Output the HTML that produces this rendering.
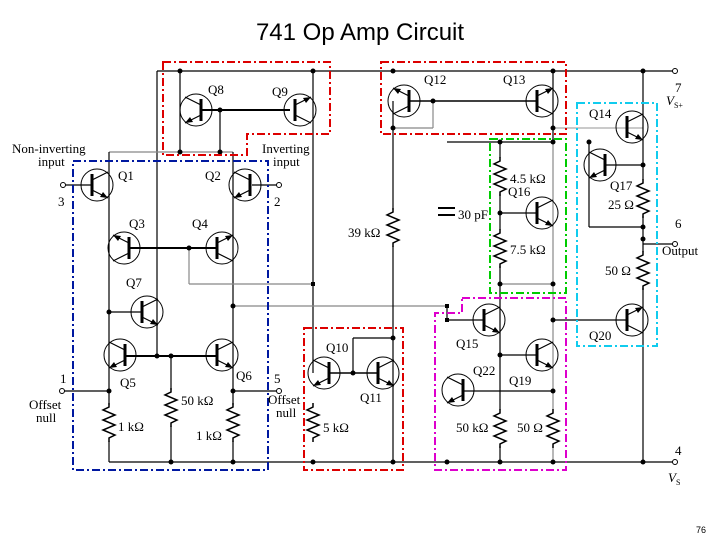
<!DOCTYPE html>
<html><head><meta charset="utf-8"><style>
html,body{margin:0;padding:0;background:#fff}
svg{display:block}
text{font-family:"Liberation Serif",serif;font-size:13px;fill:#000}
</style></head><body>
<svg width="720" height="540" viewBox="0 0 720 540" xmlns="http://www.w3.org/2000/svg">
<defs>
<g id="T">
<circle cx="0" cy="0" r="16" fill="none" stroke="#000" stroke-width="1"/>
<line x1="-5" y1="-11" x2="-5" y2="11" stroke="#000" stroke-width="3"/>
<polyline points="-5,-5 11,-13" fill="none" stroke="#000" stroke-width="1.2"/>
<polyline points="-5,5 11,13" fill="none" stroke="#000" stroke-width="1.2"/>
<polygon points="11,13 3,12 6,7" fill="#000"/>
</g>
<g id="R"><polyline points="0,0 0,4 -6,7 6,12 -6,17 6,22 -6,27 6,32 0,35 0,39" fill="none" stroke="#000" stroke-width="1.5"/></g>
</defs>
<text x="360" y="40" text-anchor="middle" style="font-family:'Liberation Sans',sans-serif;font-size:24px">741 Op Amp Circuit</text>
<text x="706" y="533" text-anchor="end" style="font-family:'Liberation Sans',sans-serif;font-size:9px">76</text>

<g stroke="#000" stroke-width="1.2" fill="none">
<line x1="157" y1="71" x2="673" y2="71"/>
<line x1="109" y1="462" x2="673" y2="462"/>
<line x1="157" y1="71" x2="157" y2="356"/>
<line x1="180" y1="71" x2="180" y2="152"/>
<line x1="313" y1="71" x2="313" y2="373"/>
<line x1="202" y1="110" x2="290" y2="110" stroke-width="2"/>
<line x1="220" y1="110" x2="220" y2="152"/>
<line x1="109" y1="152" x2="233" y2="152" stroke="#888"/>
<line x1="65" y1="185" x2="91" y2="185"/>
<line x1="109" y1="152" x2="109" y2="440"/>
<line x1="233" y1="152" x2="233" y2="462"/>
<line x1="252" y1="185" x2="277" y2="185"/>
<line x1="130" y1="248" x2="216" y2="248" stroke-width="2"/>
<line x1="189" y1="248" x2="189" y2="284" stroke="#888"/>
<line x1="189" y1="284" x2="313" y2="284" stroke="#888"/>
<line x1="233" y1="306" x2="447" y2="306" stroke="#888"/>
<line x1="447" y1="306" x2="447" y2="320"/>
<line x1="109" y1="312" x2="141" y2="312"/>
<line x1="126" y1="356" x2="216" y2="356" stroke-width="2"/>
<line x1="64" y1="391" x2="109" y2="391"/>
<line x1="233" y1="391" x2="277" y2="391"/>
<line x1="171" y1="356" x2="171" y2="462"/>
<line x1="109" y1="440" x2="109" y2="462"/>
<line x1="330" y1="373" x2="377" y2="373" stroke-width="1.5"/>
<line x1="353" y1="373" x2="353" y2="338"/>
<line x1="353" y1="338" x2="393" y2="338"/>
<line x1="393" y1="101" x2="393" y2="462"/>
<line x1="410" y1="101" x2="538" y2="101" stroke-width="1.5"/>
<line x1="433" y1="101" x2="433" y2="128" stroke="#888"/>
<line x1="393" y1="128" x2="433" y2="128" stroke="#888"/>
<line x1="553" y1="71" x2="553" y2="142"/>
<line x1="553" y1="128" x2="643" y2="128" stroke="#aaa"/>
<line x1="553" y1="142" x2="553" y2="462" stroke="#888"/>
<line x1="447" y1="142" x2="553" y2="142"/>
<line x1="438" y1="208" x2="455" y2="208" stroke-width="2"/>
<line x1="438" y1="215" x2="455" y2="215" stroke-width="2"/>
<line x1="500" y1="142" x2="500" y2="462"/>
<line x1="500" y1="213" x2="538" y2="213"/>
<line x1="500" y1="284" x2="553" y2="284" stroke="#888"/>
<line x1="643" y1="71" x2="643" y2="462"/>
<line x1="604" y1="165" x2="643" y2="165"/>
<line x1="589" y1="142" x2="589" y2="227"/>
<line x1="589" y1="227" x2="643" y2="227"/>
<line x1="643" y1="244" x2="673" y2="244"/>
<line x1="447" y1="320" x2="483" y2="320"/>
<line x1="500" y1="355" x2="538" y2="355"/>
<line x1="463" y1="391" x2="553" y2="391"/>
<line x1="553" y1="320" x2="626" y2="320"/>
</g>
<g fill="#fff">
<rect x="104" y="405" width="10" height="36"/><rect x="166" y="390" width="10" height="36"/>
<rect x="228" y="405" width="10" height="36"/><rect x="308" y="405" width="10" height="36"/>
<rect x="388" y="210" width="10" height="36"/><rect x="495" y="158" width="10" height="36"/>
<rect x="495" y="230" width="10" height="36"/><rect x="638" y="180" width="10" height="36"/>
<rect x="638" y="252" width="10" height="36"/><rect x="495" y="410" width="10" height="36"/>
<rect x="548" y="410" width="10" height="36"/>
</g>
<use href="#R" x="109" y="403"/><use href="#R" x="171" y="388"/><use href="#R" x="233" y="403"/>
<use href="#R" x="313" y="403"/><use href="#R" x="393" y="208"/><use href="#R" x="500" y="157"/>
<use href="#R" x="500" y="229"/><use href="#R" x="643" y="179"/><use href="#R" x="643" y="251"/>
<use href="#R" x="500" y="409"/><use href="#R" x="553" y="409"/>

<g fill="#fff">
<use href="#T" transform="translate(196,110) scale(-1,1)"/>
<use href="#T" transform="translate(300,110) scale(1,-1)"/>
<use href="#T" transform="translate(97,185)"/>
<use href="#T" transform="translate(245,185) scale(-1,1)"/>
<use href="#T" transform="translate(124,248) scale(-1,-1)"/>
<use href="#T" transform="translate(222,248) scale(1,-1)"/>
<use href="#T" transform="translate(147,312)"/>
<use href="#T" transform="translate(120,355) scale(-1,1)"/>
<use href="#T" transform="translate(222,355)"/>
<use href="#T" transform="translate(324,373) scale(-1,1)"/>
<use href="#T" transform="translate(383,373)"/>
<use href="#T" transform="translate(404,101) scale(-1,-1)"/>
<use href="#T" transform="translate(542,101) scale(1,-1)"/>
<use href="#T" transform="translate(632,127)"/>
<use href="#T" transform="translate(600,165) scale(-1,1)"/>
<use href="#T" transform="translate(542,213)"/>
<use href="#T" transform="translate(489,320)"/>
<use href="#T" transform="translate(542,355)"/>
<use href="#T" transform="translate(458,390) scale(-1,1)"/>
<use href="#T" transform="translate(632,320) scale(1,-1)"/>
</g>

<g fill="#000">
<circle cx="180" cy="71" r="2.5"/><circle cx="313" cy="71" r="2.5"/><circle cx="180" cy="152" r="2.5"/><circle cx="220" cy="152" r="2.5"/><circle cx="220" cy="110" r="2.5"/>
<circle cx="189" cy="248" r="2.5"/><circle cx="233" cy="306" r="2.5"/><circle cx="109" cy="312" r="2.5"/>
<circle cx="157" cy="356" r="2.5"/><circle cx="171" cy="356" r="2.5"/><circle cx="109" cy="391" r="2.5"/><circle cx="233" cy="391" r="2.5"/>
<circle cx="171" cy="462" r="2.5"/><circle cx="233" cy="462" r="2.5"/><circle cx="313" cy="462" r="2.5"/><circle cx="393" cy="462" r="2.5"/>
<circle cx="447" cy="462" r="2.5"/><circle cx="500" cy="462" r="2.5"/><circle cx="553" cy="462" r="2.5"/><circle cx="643" cy="462" r="2.5"/>
<rect x="311" y="282" width="4" height="4"/><rect x="445" y="304" width="4" height="4"/><rect x="445" y="318" width="4" height="4"/>
<circle cx="353" cy="373" r="2.5"/><circle cx="393" cy="338" r="2.5"/>
<circle cx="393" cy="71" r="2.5"/><circle cx="553" cy="71" r="2.5"/><circle cx="643" cy="71" r="2.5"/>
<circle cx="433" cy="101" r="2.5"/><circle cx="393" cy="128" r="2.5"/><circle cx="553" cy="128" r="2.5"/>
<circle cx="500" cy="142" r="2.5"/><circle cx="553" cy="142" r="2.5"/><circle cx="589" cy="142" r="2.5"/>
<circle cx="500" cy="213" r="2.5"/><circle cx="643" cy="165" r="2.5"/><circle cx="643" cy="227" r="2.5"/><circle cx="643" cy="239" r="2.5"/>
<circle cx="500" cy="284" r="2.5"/><circle cx="553" cy="284" r="2.5"/>
<circle cx="553" cy="320" r="2.5"/><circle cx="500" cy="355" r="2.5"/><circle cx="553" cy="391" r="2.5"/>
</g>
<g fill="#fff" stroke="#000"><circle cx="675" cy="71" r="2.5"/><circle cx="675" cy="244" r="2.5"/><circle cx="675" cy="462" r="2.5"/>
<circle cx="63" cy="185" r="2.5"/><circle cx="279" cy="185" r="2.5"/><circle cx="62" cy="391" r="2.5"/><circle cx="279" cy="391" r="2.5"/></g>

<g fill="none" stroke-width="2" stroke-dasharray="8,3,2,3">
<polygon points="163,62 330,62 330,134 247,134 247,155 163,155" stroke="#d00"/>
<rect x="73" y="161" width="195" height="309" stroke="#0018a0"/>
<rect x="381" y="62" width="185" height="72" stroke="#d00"/>
<rect x="490" y="139" width="76" height="154" stroke="#0c0"/>
<rect x="577" y="103" width="80" height="243" stroke="#1ce"/>
<polygon points="462,298 566,298 566,470 435,470 435,313 462,313" stroke="#d0c"/>
<rect x="304" y="328" width="99" height="142" stroke="#d00"/>
</g>

<text x="208" y="94">Q8</text><text x="272" y="96">Q9</text>
<text x="12" y="153">Non-inverting</text><text x="38" y="166">input</text>
<text x="262" y="153">Inverting</text><text x="273" y="166">input</text>
<text x="118" y="180">Q1</text><text x="205" y="180">Q2</text>
<text x="58" y="206">3</text><text x="274" y="206">2</text>
<text x="129" y="228">Q3</text><text x="192" y="228">Q4</text>
<text x="126" y="287">Q7</text>
<text x="120" y="387">Q5</text><text x="236" y="380">Q6</text>
<text x="60" y="383">1</text><text x="274" y="383">5</text>
<text x="29" y="409">Offset</text><text x="36" y="422">null</text>
<text x="268" y="404">Offset</text><text x="276" y="417">null</text>
<text x="118" y="431">1 kΩ</text><text x="181" y="405">50 kΩ</text><text x="196" y="440">1 kΩ</text>
<text x="323" y="432">5 kΩ</text>
<text x="326" y="352">Q10</text><text x="360" y="402">Q11</text>
<text x="348" y="237">39 kΩ</text>
<text x="424" y="84">Q12</text><text x="503" y="84">Q13</text>
<text x="510" y="183">4.5 kΩ</text><text x="508" y="196">Q16</text>
<text x="458" y="219">30 pF</text><text x="510" y="254">7.5 kΩ</text>
<text x="589" y="118">Q14</text><text x="610" y="190">Q17</text><text x="608" y="209">25 Ω</text>
<text x="675" y="228">6</text><text x="662" y="255">Output</text>
<text x="605" y="275">50 Ω</text>
<text x="675" y="92">7</text><text x="666" y="105"><tspan font-style="italic">V</tspan><tspan font-size="8" dy="3">S+</tspan></text>
<text x="589" y="340">Q20</text>
<text x="456" y="348">Q15</text><text x="473" y="375">Q22</text><text x="509" y="385">Q19</text>
<text x="456" y="432">50 kΩ</text><text x="517" y="432">50 Ω</text>
<text x="675" y="455">4</text><text x="668" y="482"><tspan font-style="italic">V</tspan><tspan font-size="8" dy="3">S</tspan></text>
</svg>
</body></html>
